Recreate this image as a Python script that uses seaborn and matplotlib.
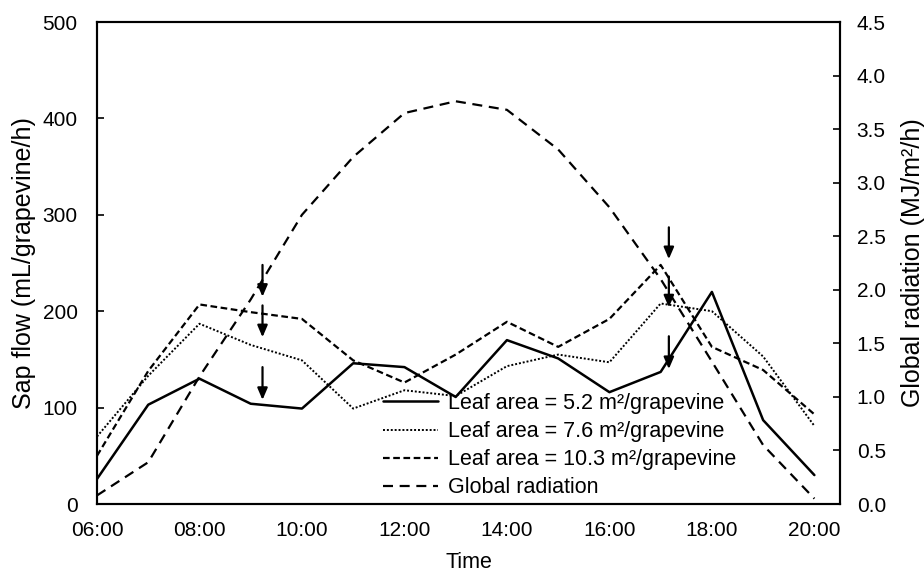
import numpy as np
import pandas as pd
import matplotlib
matplotlib.use("Agg")
import matplotlib.pyplot as plt
import seaborn as sns

hours = [6, 7, 8, 9, 10, 11, 12, 13, 14, 15, 16, 17, 18, 19, 20]
sap_52 = [26, 103, 130, 104, 99, 146, 142, 111, 170, 151, 116, 137, 220, 87, 30]
sap_76 = [70, 133, 187, 165, 149, 99, 118, 112, 143, 155, 147, 208, 200, 153, 81]
sap_103 = [50, 138, 207, 199, 192, 149, 126, 155, 189, 163, 192, 248, 163, 139, 93]
radiation = [0.08, 0.39, 1.19, 1.91, 2.70, 3.24, 3.65, 3.76, 3.68, 3.31, 2.77, 2.10, 1.33, 0.55, 0.05]

tick_hours = [6, 8, 10, 12, 14, 16, 18, 20]
tick_labels = ["06:00", "08:00", "10:00", "12:00", "14:00", "16:00", "18:00", "20:00"]

labels = ["Leaf area = 5.2 m²/grapevine",
          "Leaf area = 7.6 m²/grapevine",
          "Leaf area = 10.3 m²/grapevine",
          "Global radiation"]

# arrow annotations (x, y_start, y_end) in left-axis units
arrow_x = [9.23, 9.23, 9.23, 17.16, 17.16, 17.16]
arrow_y0 = [248, 206, 142, 287, 236, 174]
arrow_y1 = [215, 173, 108, 254, 204, 140]

sns.set_style("white")
plt.rcParams['font.family'] = ['Liberation Sans', 'DejaVu Sans']
plt.rcParams['text.color'] = 'black'
plt.rcParams['axes.labelcolor'] = 'black'
plt.rcParams['xtick.color'] = 'black'
plt.rcParams['ytick.color'] = 'black'

W, H = 924, 573
L, R, T, B = 97, 840, 22, 504
fig = plt.figure(figsize=(W / 100, H / 100), dpi=100)
ax = fig.add_axes([L / W, 1 - B / H, (R - L) / W, (B - T) / H])
ax2 = ax.twinx()

df = pd.DataFrame({"hour": hours, "s52": sap_52, "s76": sap_76, "s103": sap_103, "rad": radiation})

sns.lineplot(data=df, x="hour", y="s52", ax=ax, color="black", linewidth=1.8,
             linestyle="-", label=labels[0], legend=False)
sns.lineplot(data=df, x="hour", y="s76", ax=ax, color="black", linewidth=1.4,
             linestyle=(0, (1, 1)), label=labels[1], legend=False)
sns.lineplot(data=df, x="hour", y="s103", ax=ax, color="black", linewidth=1.6,
             linestyle=(0, (3, 1.6)), label=labels[2], legend=False)
sns.lineplot(data=df, x="hour", y="rad", ax=ax2, color="black", linewidth=1.6,
             linestyle=(0, (4.5, 3)), label=labels[3], legend=False)

ax.set_xlim(6, 20.5)
ax.set_ylim(0, 500)
ax2.set_ylim(0, 4.5)
ax.set_xticks(tick_hours)
ax.set_xticklabels(tick_labels)
ax.set_xticks(np.arange(6, 21, 1), minor=True)
ax.set_yticks([0, 100, 200, 300, 400, 500])
ax2.set_yticks(np.arange(0, 4.51, 0.5))
ax2.set_yticklabels([f"{v:.1f}" for v in np.arange(0, 4.51, 0.5)])

for a in (ax, ax2):
    a.tick_params(axis="both", which="both", direction="in", length=5, width=1.2,
                  labelsize=15, colors="black")
    for s in a.spines.values():
        s.set_color("black")
        s.set_linewidth(1.5)
ax.tick_params(axis="y", pad=14)
ax2.tick_params(axis="y", pad=12)
ax.tick_params(axis="x", which="both", pad=12)

ax.set_xlabel("Time", fontsize=15.5, color="black")
ax.set_ylabel("Sap flow (mL/grapevine/h)", fontsize=18, color="black")
ax2.set_ylabel("Global radiation (MJ/m²/h)", fontsize=18, color="black")
ax.xaxis.set_label_coords(0.5, (B - 552) / (B - T))
ax.yaxis.set_label_coords((36 - L) / (R - L), 0.5)
ax2.yaxis.set_label_coords((901 - L) / (R - L), 0.5)
ax.grid(False)
ax2.grid(False)

for x, y0, y1 in zip(arrow_x, arrow_y0, arrow_y1):
    ax.annotate("", xy=(x, y1), xytext=(x, y0),
                arrowprops=dict(arrowstyle="-|>,head_length=0.7,head_width=0.3",
                                color="black", lw=1.6, shrinkA=0, shrinkB=0))

h1, l1 = ax.get_legend_handles_labels()
h2, l2 = ax2.get_legend_handles_labels()
leg = ax2.legend(h1 + h2, l1 + l2, loc="upper left",
                 bbox_to_anchor=(383 / W, 1 - 393 / H), bbox_transform=fig.transFigure,
                 frameon=False, fontsize=15.5, handlelength=2.55, handletextpad=0.45,
                 labelspacing=0.33, borderpad=0, borderaxespad=0, labelcolor="black")

fig.savefig("out.png", dpi=100)
